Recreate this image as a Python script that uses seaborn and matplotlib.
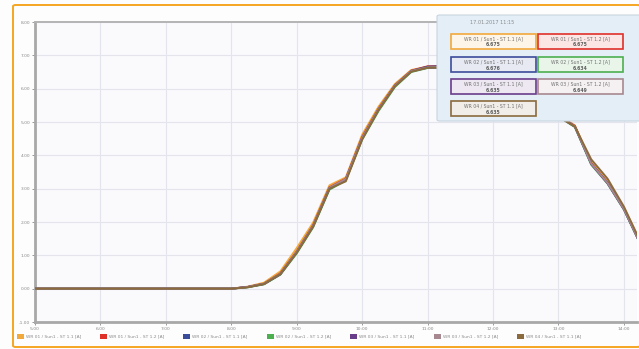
import matplotlib
matplotlib.use("Agg")
import matplotlib.pyplot as plt
from matplotlib.patches import Rectangle, FancyBboxPatch
from matplotlib.colors import to_rgb
import numpy as np
import pandas as pd
import seaborn as sns

# --- data -------------------------------------------------------------
times = ["05:00", "05:15", "05:30", "05:45", "06:00", "06:15", "06:30", "06:45",
         "07:00", "07:15", "07:30", "07:45", "08:00", "08:15", "08:30", "08:45",
         "09:00", "09:15", "09:30", "09:45", "10:00", "10:15", "10:30", "10:45",
         "11:00", "11:15", "11:30", "11:45", "12:00", "12:15", "12:30", "12:45",
         "13:00", "13:15", "13:30", "13:45", "14:00", "14:15"]

night = [0.0] * 13

series_names = ["WR 01 / Sun1 - ST 1.1 [A]", "WR 01 / Sun1 - ST 1.2 [A]",
                "WR 02 / Sun1 - ST 1.1 [A]", "WR 02 / Sun1 - ST 1.2 [A]",
                "WR 03 / Sun1 - ST 1.1 [A]", "WR 03 / Sun1 - ST 1.2 [A]",
                "WR 04 / Sun1 - ST 1.1 [A]"]

s1 = night + [0.06, 0.18, 0.52, 1.22, 1.98, 3.10, 3.34, 4.62, 5.46, 6.14, 6.56,
              6.66, 6.675, 6.63, 6.49, 6.31, 6.09, 5.81, 5.51, 5.21, 4.90, 3.80, 3.22, 2.44, 1.40]
s2 = night + [0.05, 0.15, 0.46, 1.12, 1.90, 3.04, 3.30, 4.55, 5.40, 6.10, 6.54,
              6.67, 6.675, 6.62, 6.48, 6.30, 6.08, 5.80, 5.50, 5.20, 4.88, 3.76, 3.18, 2.40, 1.36]
s3 = night + [0.05, 0.14, 0.44, 1.10, 1.88, 3.02, 3.28, 4.52, 5.38, 6.09, 6.53,
              6.66, 6.676, 6.62, 6.48, 6.30, 6.07, 5.79, 5.49, 5.19, 4.87, 3.75, 3.17, 2.39, 1.35]
s4 = night + [0.04, 0.13, 0.42, 1.06, 1.84, 2.97, 3.25, 4.47, 5.33, 6.05, 6.50,
              6.62, 6.634, 6.58, 6.44, 6.26, 6.04, 5.76, 5.46, 5.16, 4.85, 3.72, 3.15, 2.37, 1.34]
s5 = night + [0.05, 0.14, 0.43, 1.09, 1.87, 3.00, 3.27, 4.50, 5.37, 6.08, 6.52,
              6.63, 6.635, 6.59, 6.45, 6.27, 6.05, 5.77, 5.47, 5.17, 4.86, 3.74, 3.16, 2.38, 1.35]
s6 = night + [0.05, 0.15, 0.45, 1.11, 1.89, 3.03, 3.29, 4.53, 5.39, 6.09, 6.53,
              6.64, 6.649, 6.60, 6.46, 6.28, 6.06, 5.78, 5.48, 5.18, 4.87, 3.75, 3.17, 2.39, 1.36]
s7 = night + [0.04, 0.14, 0.44, 1.08, 1.86, 3.00, 3.22, 4.48, 5.36, 6.07, 6.51,
              6.63, 6.635, 6.59, 6.45, 6.27, 6.05, 5.77, 5.47, 5.17, 4.86, 3.88, 3.30, 2.46, 1.42]

series_values = [s1, s2, s3, s4, s5, s6, s7]
colors = ["#f2a93b", "#e0302a", "#3b4c9b", "#4caf50", "#6a3d8a", "#a88890", "#8b6b3d"]

x_ticks = [5, 6, 7, 8, 9, 10, 11, 12, 13, 14]
x_tick_labels = ["5:00", "6:00", "7:00", "8:00", "9:00", "10:00", "11:00", "12:00", "13:00", "14:00"]
y_ticks = [-1, 0, 1, 2, 3, 4, 5, 6, 7, 8]

tooltip_time = "11:15"
tooltip_title = "17.01.2017 11:15"

# --- long-form table ----------------------------------------------------
def to_hours(t):
    h, m = t.split(":")
    return int(h) + int(m) / 60.0

hours = [to_hours(t) for t in times]
frames = []
for name, vals in zip(series_names, series_values):
    frames.append(pd.DataFrame({"hour": hours, "value": vals, "series": name}))
df = pd.concat(frames, ignore_index=True)

# --- figure -------------------------------------------------------------
W, H = 639, 349
fig = plt.figure(figsize=(W / 100, H / 100), dpi=100)
fig.patch.set_facecolor("#fdfdfe")

def fx(px):
    return px / W

def fy(py):
    return 1 - py / H

def tint(c, amount=0.12):
    r, g, b = to_rgb(c)
    return (1 - amount + amount * r, 1 - amount + amount * g, 1 - amount + amount * b)

# orange outer frame
fig.patches.append(FancyBboxPatch((fx(13), fy(347)), fx(640) - fx(13), fy(5) - fy(347),
                                  boxstyle="round,pad=0,rounding_size=0.004",
                                  transform=fig.transFigure, facecolor="none",
                                  edgecolor="#f5a623", linewidth=1.4, zorder=0))

ax = fig.add_axes([fx(35), fy(322), fx(637) - fx(35), fy(22) - fy(322)])
ax.set_facecolor("#fafafd")

sns.lineplot(data=df, x="hour", y="value", hue="series", palette=colors,
             hue_order=series_names, linewidth=1.4, legend=False, ax=ax, zorder=3)

ax.set_xlim(5, 14.2)
ax.set_ylim(-1, 8)
ax.set_xticks(x_ticks)
ax.set_xticklabels(x_tick_labels)
ax.set_yticks(y_ticks)
ax.set_yticklabels([f"{v:.2f}" for v in y_ticks])
ax.tick_params(axis="both", labelsize=3.2, colors="#8a8a8a", length=2, width=0.6, pad=1.5)
ax.grid(True, color="#e4e4ec", linewidth=0.8)
ax.set_axisbelow(True)
ax.set_xlabel("")
ax.set_ylabel("")
for side in ["left", "bottom"]:
    ax.spines[side].set_color("#a8a8a8")
    ax.spines[side].set_linewidth(2.0)
ax.spines["top"].set_color("#b4b4b4")
ax.spines["top"].set_linewidth(1.4)
ax.spines["right"].set_visible(False)

# bottom legend row
legend_x = [17, 100, 183, 267, 350, 434, 517]
for x0, name, c in zip(legend_x, series_names, colors):
    fig.patches.append(Rectangle((fx(x0), fy(338.5)), fx(7), 5 / H, transform=fig.transFigure,
                                 facecolor=c, edgecolor="none"))
    fig.text(fx(x0 + 9), fy(336), name, fontsize=3.2, color="#8a8a8a", va="center", ha="left")

# tooltip panel
fig.patches.append(FancyBboxPatch((fx(437), fy(121)), fx(660) - fx(437), fy(15) - fy(121),
                                  boxstyle="round,pad=0,rounding_size=0.004",
                                  transform=fig.transFigure, facecolor="#e3eef7",
                                  edgecolor="#c8d4de", linewidth=0.8, zorder=5))
fig.text(fx(492), fy(22), tooltip_title, fontsize=3.6, color="#8a8a8a", ha="center", va="center",
         zorder=6)

idx = times.index(tooltip_time)
col_x = [451, 538]
row_y = [34, 57, 79, 101]
for i, (name, vals, c) in enumerate(zip(series_names, series_values, colors)):
    x0 = col_x[i % 2]
    y0 = row_y[i // 2]
    fig.patches.append(Rectangle((fx(x0), fy(y0 + 15)), fx(85), 15 / H, transform=fig.transFigure,
                                 facecolor=tint(c), edgecolor=c, linewidth=1.2, zorder=6))
    fig.text(fx(x0 + 42.5), fy(y0 + 4.5), name, fontsize=3.3, color="#707070",
             ha="center", va="center", zorder=7)
    fig.text(fx(x0 + 42.5), fy(y0 + 11), f"{vals[idx]:.3f}", fontsize=3.3, color="#606060",
             fontweight="bold", ha="center", va="center", zorder=7)

fig.savefig("out.png", dpi=100)
